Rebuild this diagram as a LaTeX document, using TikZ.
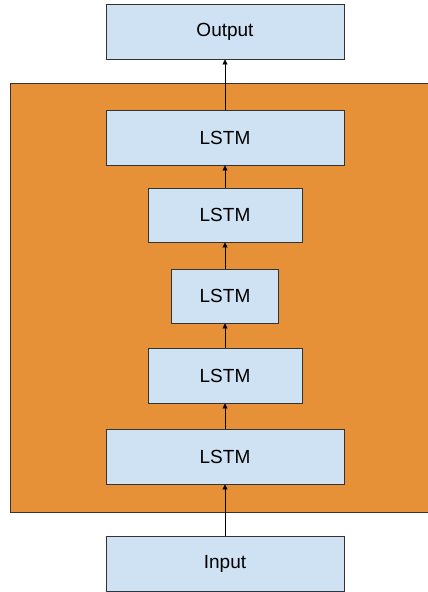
\documentclass[tikz,border=0pt]{standalone}
\usepackage{fontspec}
\setmainfont{Liberation Sans}
\usetikzlibrary{arrows.meta}
\definecolor{boxblue}{HTML}{CFE2F3}
\definecolor{bgorange}{HTML}{E69138}
\definecolor{edgegray}{HTML}{333333}
\begin{document}
\begin{tikzpicture}[x=1pt,y=-1pt,
  blk/.style={draw=edgegray,line width=0.9pt,fill=boxblue,inner sep=0pt,font=\fontsize{19}{22}\selectfont},
  conn/.style={draw=black,line width=0.8pt,-{Triangle[length=5pt,width=5pt]}}]
\useasboundingbox (0,0) rectangle (428,592);
\node[draw=edgegray,line width=0.9pt,fill=bgorange,minimum width=420pt,minimum height=429pt,inner sep=0pt,anchor=north west] (bg) at (10,83) {};
\node[blk,minimum width=238pt,minimum height=55pt] (out) at (225,31.5) {Output};
\node[blk,minimum width=238pt,minimum height=55pt] (l1) at (225,137.5) {LSTM};
\node[blk,minimum width=154pt,minimum height=54pt] (l2) at (225,215) {LSTM};
\node[blk,minimum width=107pt,minimum height=54pt] (l3) at (225,296) {LSTM};
\node[blk,minimum width=154pt,minimum height=55pt] (l4) at (225,375.5) {LSTM};
\node[blk,minimum width=238pt,minimum height=55pt] (l5) at (225,456.5) {LSTM};
\node[blk,minimum width=238pt,minimum height=55pt] (in) at (225,563.5) {Input};
\draw[conn] (in.north) -- (l5.south);
\draw[conn] (l5.north) -- (l4.south);
\draw[conn] (l4.north) -- (l3.south);
\draw[conn] (l3.north) -- (l2.south);
\draw[conn] (l2.north) -- (l1.south);
\draw[conn] (l1.north) -- (out.south);
\end{tikzpicture}
\end{document}
